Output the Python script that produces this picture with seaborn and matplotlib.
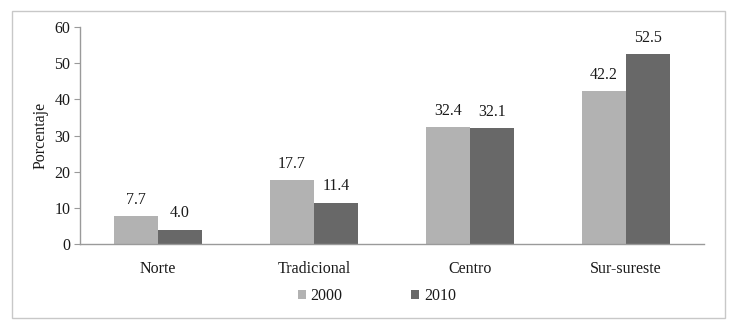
import pandas as pd
import matplotlib
matplotlib.use("Agg")
import matplotlib.pyplot as plt
import seaborn as sns
from matplotlib.patches import Rectangle

regions = ['Norte', 'Tradicional', 'Centro', 'Sur-sureste']
years = ['2000', '2010']
vals_2000 = [7.7, 17.7, 32.4, 42.2]
vals_2010 = [4.0, 11.4, 32.1, 52.5]
colors = ['#b2b2b2', '#686868']

df = pd.DataFrame({
    'region': regions * 2,
    'year': [years[0]] * 4 + [years[1]] * 4,
    'value': vals_2000 + vals_2010,
})

sns.set_style("white")
plt.rcParams['font.family'] = ['Liberation Serif', 'DejaVu Serif']
fs = 11.5
plt.rcParams['font.size'] = fs

fig = plt.figure(figsize=(7.36, 3.31), dpi=100)
ax = fig.add_axes([0.1087, 0.2628, 0.8478, 0.6552])

sns.barplot(data=df, x='region', y='value', hue='year', palette=colors,
            width=0.565, saturation=1, linewidth=0, ax=ax, legend=True)

for cont in ax.containers:
    ax.bar_label(cont, fmt='%.1f', padding=6, fontsize=fs, color='#1a1a1a')

ax.set_ylim(0, 60)
ax.set_yticks(range(0, 61, 10))
ax.set_xlim(-0.5, 3.5)
ax.set_xlabel('')
ax.set_ylabel('Porcentaje', fontsize=fs, color='#1a1a1a')
for s in ['top', 'right']:
    ax.spines[s].set_visible(False)
for s in ['left', 'bottom']:
    ax.spines[s].set_color('#9a9a9a')
    ax.spines[s].set_linewidth(1)
ax.tick_params(axis='y', which='both', left=True, length=4, color='#9a9a9a', labelsize=fs, pad=3,
               labelcolor='#1a1a1a')
ax.tick_params(axis='x', bottom=False, labelsize=fs, pad=9, labelcolor='#1a1a1a')

leg = ax.legend(loc='center', bbox_to_anchor=(0.476, -0.24), ncol=2, frameon=False,
                handlelength=0.5, handleheight=0.5, handletextpad=0.3, columnspacing=4.3,
                fontsize=fs)
for t in leg.get_texts():
    t.set_color('#1a1a1a')

fig.patches.append(Rectangle((0.016, 0.04), 0.969, 0.927, transform=fig.transFigure,
                             fill=False, edgecolor='#c8c8c8', linewidth=1))

fig.savefig('out.png', dpi=100)
